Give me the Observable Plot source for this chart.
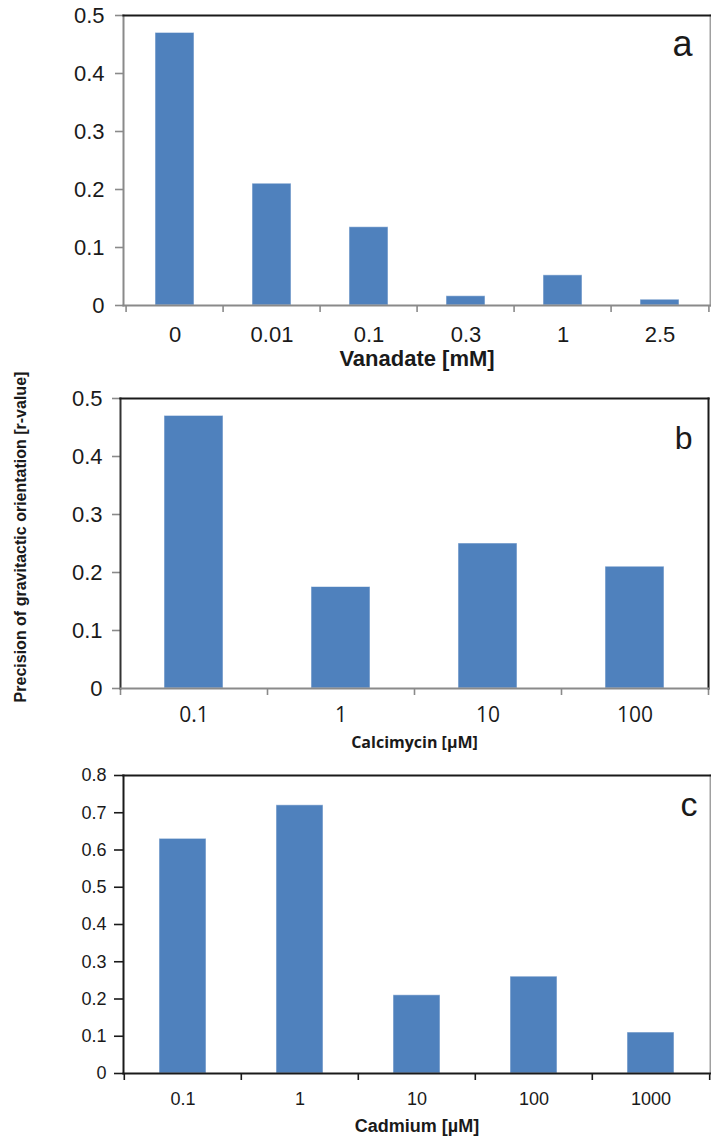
<!DOCTYPE html>
<html>
<head>
<meta charset="utf-8">
<script src="https://cdn.jsdelivr.net/npm/d3@7"></script>
<script src="https://cdn.jsdelivr.net/npm/@observablehq/plot@0.6"></script>
<style>
  html, body { margin: 0; padding: 0; background: #fff; }
  #wrap { position: relative; width: 711px; height: 1136px; overflow: hidden; font-family: "Liberation Sans", Arial, sans-serif; }
  #wrap svg { position: absolute; left: 0; }
  #ylabel { position: absolute; left: -179px; top: 529px; width: 400px; height: 16px; line-height: 16px;
    text-align: center; font-weight: bold; font-size: 16px; color: #1a1a1a; transform: rotate(-90deg); white-space: nowrap; }
</style>
</head>
<body>
<div id="wrap"><div id="ylabel">Precision of gravitactic orientation [r-value]</div></div>
<script>
// ---- data ----
const vanadateLabels = ["0", "0.01", "0.1", "0.3", "1", "2.5"];
const vanadateValues = [0.47, 0.21, 0.135, 0.016, 0.052, 0.01];
const calcimycinLabels = ["0.1", "1", "10", "100"];
const calcimycinValues = [0.47, 0.175, 0.25, 0.21];
const cadmiumLabels = ["0.1", "1", "10", "100", "1000"];
const cadmiumValues = [0.63, 0.72, 0.21, 0.26, 0.11];
const yTicksAB = [0, 0.1, 0.2, 0.3, 0.4, 0.5];
const yTicksC = [0, 0.1, 0.2, 0.3, 0.4, 0.5, 0.6, 0.7, 0.8];
const xTitles = ["Vanadate [mM]", "Calcimycin [µM]", "Cadmium [µM]"];
const panelLetters = ["a", "b", "c"];

const BAR = "#4F81BD";
const W = 711;

function panel(o) {
  const data = o.labels.map((l, i) => ({label: l, value: o.values[i]}));
  const step = (W - o.ml - o.mr) / o.labels.length;
  const last = o.labels[o.labels.length - 1];
  return Plot.plot({
    width: W, height: o.height,
    marginLeft: o.ml, marginRight: o.mr, marginTop: o.mt, marginBottom: o.mb,
    style: {fontFamily: '"Liberation Sans", Arial, sans-serif', background: "transparent", overflow: "visible"},
    x: {domain: o.labels, paddingInner: 0.6, paddingOuter: 0.3, axis: null, label: null},
    y: {domain: [0, o.ymax], axis: null, label: null},
    marks: [
      Plot.barY(data, {x: "label", y: "value", fill: BAR, stroke: "#ffffff", strokeOpacity: 0.55, strokeWidth: 1}),
      Plot.axisY({ticks: o.yticks, tickFormat: d => String(d), tickSize: o.ytickSize, tickPadding: o.ytickPad,
        fontSize: o.yFont, stroke: o.tickColor, strokeWidth: 1.6, fill: "#1a1a1a", label: null}),
      Plot.axisX({ticks: o.labels, text: null, tickSize: 7, dx: -step / 2, stroke: o.tickColor, strokeWidth: 1.6, label: null}),
      Plot.axisX({ticks: [last], text: null, tickSize: 7, dx: step / 2, stroke: o.tickColor, strokeWidth: 1.6, label: null}),
      Plot.axisX({ticks: o.labels, tickSize: 0, tickPadding: o.xtickPad, fontSize: o.xFont, fill: "#1a1a1a",
        fontFamily: o.xFontFamily, label: null}),
      Plot.frame({anchor: "left", stroke: o.fLeft, strokeWidth: 2}),
      Plot.frame({anchor: "right", stroke: o.fRight, strokeWidth: 2}),
      Plot.frame({anchor: "bottom", stroke: o.fBottom, strokeWidth: 2}),
      Plot.frame({anchor: "top", stroke: o.fTop, strokeWidth: 2.2}),
      Plot.text([o.title], {frameAnchor: "bottom", lineAnchor: "bottom", dy: o.titleDy, text: d => d,
        fontSize: o.titleFont, fontWeight: "bold", fill: "#1a1a1a", fontFamily: o.titleFontFamily}),
      Plot.text([o.letter], {frameAnchor: "top-right", lineAnchor: "bottom", textAnchor: "end",
        dx: o.letterDx, dy: o.letterDy, text: d => d, fontSize: o.letterFont, fill: "#1a1a1a"})
    ]
  });
}

const wrap = document.getElementById("wrap");
const pa = panel({labels: vanadateLabels, values: vanadateValues, ymax: 0.5, yticks: yTicksAB,
  height: 375, ml: 123, mr: 1, mt: 15, mb: 70,
  ytickSize: 8, ytickPad: 11, yFont: 22, xtickPad: 21, xFont: 22,
  tickColor: "#8a8a8a", fLeft: "#8a8a8a", fRight: "#a0a0a0", fBottom: "#8a8a8a", fTop: "#1a1a1a",
  title: xTitles[0], titleDy: 60, titleFont: 22, letter: panelLetters[0], letterDx: -18, letterDy: 40, letterFont: 36});
pa.style.top = "0px";
const pb = panel({labels: calcimycinLabels, values: calcimycinValues, ymax: 0.5, yticks: yTicksAB,
  height: 385, ml: 120, mr: 3, mt: 23, mb: 72,
  ytickSize: 8, ytickPad: 10, yFont: 22, xtickPad: 19, xFont: 21, xFontFamily: '"Open Sans", sans-serif',
  tickColor: "#8a8a8a", fLeft: "#333333", fRight: "#1a1a1a", fBottom: "#8a8a8a", fTop: "#1a1a1a",
  title: xTitles[1], titleDy: 59, titleFont: 16, titleFontFamily: '"Open Sans", sans-serif',
  letter: panelLetters[1], letterDx: -16, letterDy: 50, letterFont: 32});
pb.style.top = "375px";
const pc = panel({labels: cadmiumLabels, values: cadmiumValues, ymax: 0.8, yticks: yTicksC,
  height: 376, ml: 123, mr: 1, mt: 15, mb: 63,
  ytickSize: 9, ytickPad: 8, yFont: 18, xtickPad: 19, xFont: 18,
  tickColor: "#1a1a1a", fLeft: "#1a1a1a", fRight: "#a0a0a0", fBottom: "#1a1a1a", fTop: "#1a1a1a",
  title: xTitles[2], titleDy: 58, titleFont: 18, letter: panelLetters[2], letterDx: -13, letterDy: 40, letterFont: 34});
pc.style.top = "760px";
wrap.appendChild(pa); wrap.appendChild(pb); wrap.appendChild(pc);
</script>
</body>
</html>
